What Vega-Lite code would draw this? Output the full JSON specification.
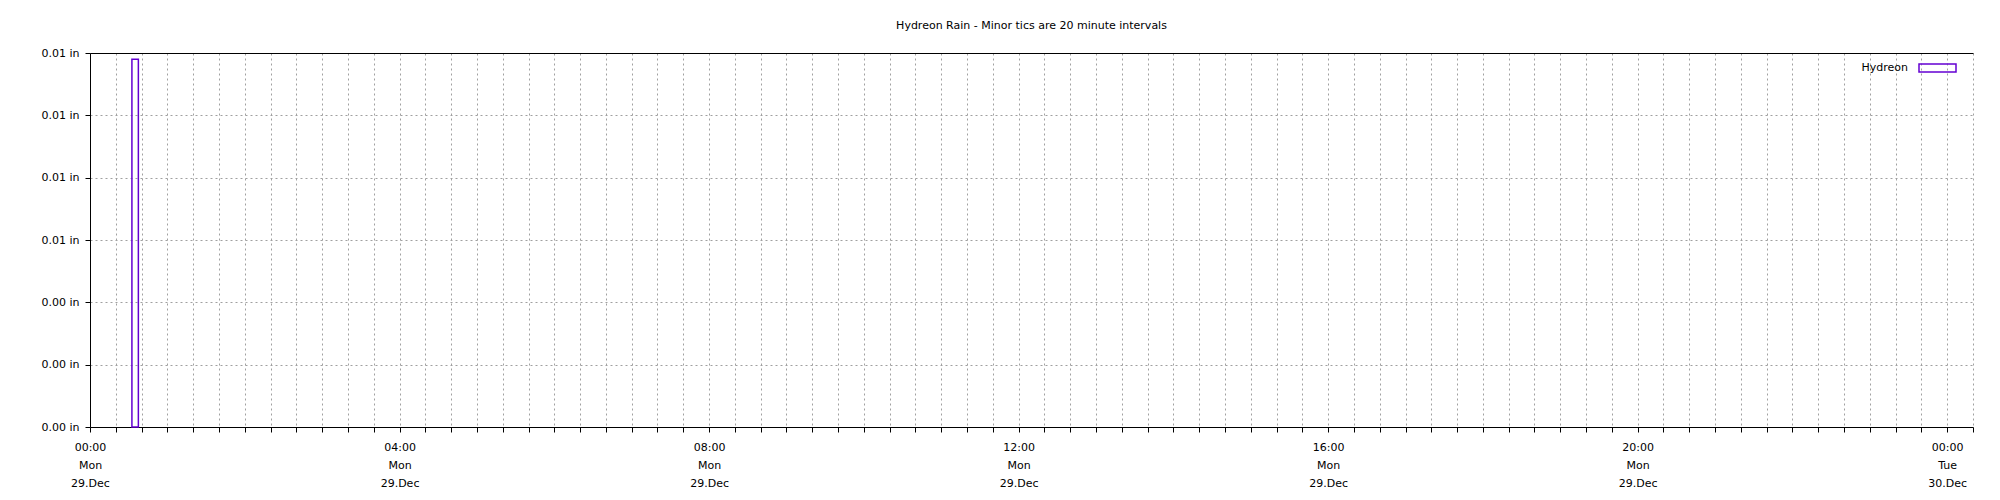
{
  "$schema": "https://vega.github.io/schema/vega-lite/v6.json",
  "autosize": {"type": "none"},
  "padding": {"left": 90, "top": 53, "right": 27, "bottom": 73},
  "width": 1883,
  "height": 374,
  "title": {
    "text": "Hydreon Rain - Minor tics are 20 minute intervals",
    "fontSize": 11,
    "fontWeight": "normal",
    "color": "black",
    "anchor": "middle",
    "frame": "group",
    "baseline": "bottom",
    "offset": 5
  },
  "config": {
    "view": {"stroke": null},
    "font": "DejaVu Sans",
    "axis": {
      "domainColor": "black",
      "tickColor": "black",
      "labelColor": "black",
      "labelFontSize": 11,
      "gridColor": "#a0a0a0",
      "gridDash": [2, 3]
    },
    "legend": {"labelFontSize": 11, "labelColor": "black"}
  },
  "data": {
    "values": [
      {"start": "2025-12-29T00:32:30", "end": "2025-12-29T00:37:30", "rain": 0.0118, "series": "Hydreon"}
    ]
  },
  "resolve": {"axis": {"x": "independent"}},
  "layer": [
    {
      "mark": {"type": "bar", "filled": false, "strokeWidth": 1.5},
      "encoding": {
        "x": {
          "field": "start",
          "type": "temporal",
          "scale": {
            "domain": [
              {"year": 2025, "month": 12, "date": 29, "hours": 0, "minutes": 0},
              {"year": 2025, "month": 12, "date": 30, "hours": 0, "minutes": 20}
            ],
            "nice": false
          },
          "axis": {
            "title": null,
            "orient": "bottom",
            "values": [
              {"year": 2025, "month": 12, "date": 29, "hours": 0, "minutes": 0},
              {"year": 2025, "month": 12, "date": 29, "hours": 0, "minutes": 20},
              {"year": 2025, "month": 12, "date": 29, "hours": 0, "minutes": 40},
              {"year": 2025, "month": 12, "date": 29, "hours": 1, "minutes": 0},
              {"year": 2025, "month": 12, "date": 29, "hours": 1, "minutes": 20},
              {"year": 2025, "month": 12, "date": 29, "hours": 1, "minutes": 40},
              {"year": 2025, "month": 12, "date": 29, "hours": 2, "minutes": 0},
              {"year": 2025, "month": 12, "date": 29, "hours": 2, "minutes": 20},
              {"year": 2025, "month": 12, "date": 29, "hours": 2, "minutes": 40},
              {"year": 2025, "month": 12, "date": 29, "hours": 3, "minutes": 0},
              {"year": 2025, "month": 12, "date": 29, "hours": 3, "minutes": 20},
              {"year": 2025, "month": 12, "date": 29, "hours": 3, "minutes": 40},
              {"year": 2025, "month": 12, "date": 29, "hours": 4, "minutes": 0},
              {"year": 2025, "month": 12, "date": 29, "hours": 4, "minutes": 20},
              {"year": 2025, "month": 12, "date": 29, "hours": 4, "minutes": 40},
              {"year": 2025, "month": 12, "date": 29, "hours": 5, "minutes": 0},
              {"year": 2025, "month": 12, "date": 29, "hours": 5, "minutes": 20},
              {"year": 2025, "month": 12, "date": 29, "hours": 5, "minutes": 40},
              {"year": 2025, "month": 12, "date": 29, "hours": 6, "minutes": 0},
              {"year": 2025, "month": 12, "date": 29, "hours": 6, "minutes": 20},
              {"year": 2025, "month": 12, "date": 29, "hours": 6, "minutes": 40},
              {"year": 2025, "month": 12, "date": 29, "hours": 7, "minutes": 0},
              {"year": 2025, "month": 12, "date": 29, "hours": 7, "minutes": 20},
              {"year": 2025, "month": 12, "date": 29, "hours": 7, "minutes": 40},
              {"year": 2025, "month": 12, "date": 29, "hours": 8, "minutes": 0},
              {"year": 2025, "month": 12, "date": 29, "hours": 8, "minutes": 20},
              {"year": 2025, "month": 12, "date": 29, "hours": 8, "minutes": 40},
              {"year": 2025, "month": 12, "date": 29, "hours": 9, "minutes": 0},
              {"year": 2025, "month": 12, "date": 29, "hours": 9, "minutes": 20},
              {"year": 2025, "month": 12, "date": 29, "hours": 9, "minutes": 40},
              {"year": 2025, "month": 12, "date": 29, "hours": 10, "minutes": 0},
              {"year": 2025, "month": 12, "date": 29, "hours": 10, "minutes": 20},
              {"year": 2025, "month": 12, "date": 29, "hours": 10, "minutes": 40},
              {"year": 2025, "month": 12, "date": 29, "hours": 11, "minutes": 0},
              {"year": 2025, "month": 12, "date": 29, "hours": 11, "minutes": 20},
              {"year": 2025, "month": 12, "date": 29, "hours": 11, "minutes": 40},
              {"year": 2025, "month": 12, "date": 29, "hours": 12, "minutes": 0},
              {"year": 2025, "month": 12, "date": 29, "hours": 12, "minutes": 20},
              {"year": 2025, "month": 12, "date": 29, "hours": 12, "minutes": 40},
              {"year": 2025, "month": 12, "date": 29, "hours": 13, "minutes": 0},
              {"year": 2025, "month": 12, "date": 29, "hours": 13, "minutes": 20},
              {"year": 2025, "month": 12, "date": 29, "hours": 13, "minutes": 40},
              {"year": 2025, "month": 12, "date": 29, "hours": 14, "minutes": 0},
              {"year": 2025, "month": 12, "date": 29, "hours": 14, "minutes": 20},
              {"year": 2025, "month": 12, "date": 29, "hours": 14, "minutes": 40},
              {"year": 2025, "month": 12, "date": 29, "hours": 15, "minutes": 0},
              {"year": 2025, "month": 12, "date": 29, "hours": 15, "minutes": 20},
              {"year": 2025, "month": 12, "date": 29, "hours": 15, "minutes": 40},
              {"year": 2025, "month": 12, "date": 29, "hours": 16, "minutes": 0},
              {"year": 2025, "month": 12, "date": 29, "hours": 16, "minutes": 20},
              {"year": 2025, "month": 12, "date": 29, "hours": 16, "minutes": 40},
              {"year": 2025, "month": 12, "date": 29, "hours": 17, "minutes": 0},
              {"year": 2025, "month": 12, "date": 29, "hours": 17, "minutes": 20},
              {"year": 2025, "month": 12, "date": 29, "hours": 17, "minutes": 40},
              {"year": 2025, "month": 12, "date": 29, "hours": 18, "minutes": 0},
              {"year": 2025, "month": 12, "date": 29, "hours": 18, "minutes": 20},
              {"year": 2025, "month": 12, "date": 29, "hours": 18, "minutes": 40},
              {"year": 2025, "month": 12, "date": 29, "hours": 19, "minutes": 0},
              {"year": 2025, "month": 12, "date": 29, "hours": 19, "minutes": 20},
              {"year": 2025, "month": 12, "date": 29, "hours": 19, "minutes": 40},
              {"year": 2025, "month": 12, "date": 29, "hours": 20, "minutes": 0},
              {"year": 2025, "month": 12, "date": 29, "hours": 20, "minutes": 20},
              {"year": 2025, "month": 12, "date": 29, "hours": 20, "minutes": 40},
              {"year": 2025, "month": 12, "date": 29, "hours": 21, "minutes": 0},
              {"year": 2025, "month": 12, "date": 29, "hours": 21, "minutes": 20},
              {"year": 2025, "month": 12, "date": 29, "hours": 21, "minutes": 40},
              {"year": 2025, "month": 12, "date": 29, "hours": 22, "minutes": 0},
              {"year": 2025, "month": 12, "date": 29, "hours": 22, "minutes": 20},
              {"year": 2025, "month": 12, "date": 29, "hours": 22, "minutes": 40},
              {"year": 2025, "month": 12, "date": 29, "hours": 23, "minutes": 0},
              {"year": 2025, "month": 12, "date": 29, "hours": 23, "minutes": 20},
              {"year": 2025, "month": 12, "date": 29, "hours": 23, "minutes": 40},
              {"year": 2025, "month": 12, "date": 30, "hours": 0, "minutes": 0},
              {"year": 2025, "month": 12, "date": 30, "hours": 0, "minutes": 20}
            ],
            "tickSize": 5,
            "labelOverlap": false,
            "labelFlush": false,
            "labelAlign": "center",
            "labelBaseline": "top",
            "labelPadding": 9,
            "labelLineHeight": 18,
            "labelExpr": "(hours(datum.value) % 4 == 0 && minutes(datum.value) == 0) ? [timeFormat(datum.value, '%H:%M'), timeFormat(datum.value, '%a'), timeFormat(datum.value, '%d.%b')] : ''"
          }
        },
        "x2": {"field": "end"},
        "y": {
          "field": "rain",
          "type": "quantitative",
          "stack": null,
          "scale": {"domain": [0, 0.012], "nice": false},
          "axis": {
            "title": null,
            "values": [0, 0.001, 0.002, 0.003, 0.004, 0.005, 0.006, 0.007, 0.008, 0.009, 0.01, 0.011, 0.012],
            "tickSize": 5,
            "labelPadding": 6,
            "labelOverlap": false,
            "labelFlush": false,
            "gridOpacity": {"condition": {"test": "round(datum.value * 1000) % 2 == 0", "value": 1}, "value": 0},
            "labelExpr": "round(datum.value * 1000) % 2 == 0 ? format(datum.value, '.2f') + ' in' : ''"
          }
        },
        "y2": {"datum": 0},
        "color": {
          "field": "series",
          "type": "nominal",
          "scale": {"domain": ["Hydreon"], "range": ["#6400d2"]},
          "legend": {
            "title": null,
            "orient": "none",
            "legendX": 1828,
            "legendY": -4.5,
            "padding": 0,
            "symbolType": "M-1,-0.216H1V0.216H-1Z",
            "symbolSize": 1369,
            "symbolStrokeWidth": 1.5,
            "labelAlign": "right",
            "labelOffset": -49
          }
        }
      }
    },
    {
      "mark": {"type": "bar", "opacity": 0},
      "encoding": {
        "x": {
          "field": "start",
          "type": "temporal",
          "axis": {
            "title": null,
            "orient": "top",
            "ticks": false,
            "labels": false,
            "grid": false,
            "domain": true
          }
        },
        "x2": {"field": "end"},
        "y": {"field": "rain", "type": "quantitative", "stack": null},
        "y2": {"datum": 0}
      }
    }
  ]
}
